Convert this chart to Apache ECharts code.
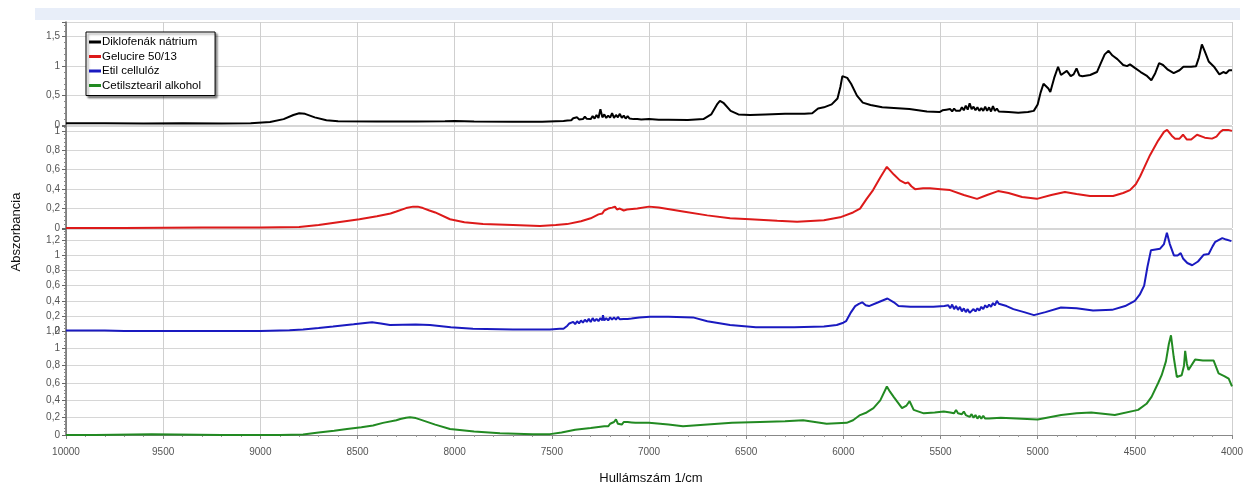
<!DOCTYPE html>
<html>
<head>
<meta charset="utf-8">
<script src="https://cdn.jsdelivr.net/npm/echarts@6/dist/echarts.min.js"></script>
<style>
html,body{margin:0;padding:0;background:#fff;}
#c{width:1251px;height:490px;}
</style>
</head>
<body>
<div id="c"></div>
<script>
// ---- data ----
const seriesNames = ['Diklofenák nátrium', 'Gelucire 50/13', 'Etil cellulóz', 'Cetilsztearil alkohol'];
const xTicks = [10000, 9500, 9000, 8500, 8000, 7500, 7000, 6500, 6000, 5500, 5000, 4500, 4000];
const yTicksDiklo = [0, 0.5, 1, 1.5];
const yTicksGelucire = [0, 0.2, 0.4, 0.6, 0.8, 1];
const yTicksEtil = [0, 0.2, 0.4, 0.6, 0.8, 1, 1.2];
const yTicksCetil = [0, 0.2, 0.4, 0.6, 0.8, 1, 1.2];

const diklofenak = [
[10000,0.03],[9800,0.03],[9600,0.025],[9400,0.03],[9200,0.025],[9050,0.03],[8950,0.05],[8880,0.1],[8830,0.17],[8800,0.2],
[8770,0.19],[8720,0.13],[8660,0.08],[8600,0.065],[8400,0.06],[8200,0.06],[8050,0.065],[8000,0.07],[7900,0.06],[7700,0.055],
[7550,0.055],[7480,0.065],
[7440,0.07],[7430,0.085],[7420,0.075],[7410,0.1],[7400,0.08],[7390,0.115],[7380,0.09],[7370,0.13],[7360,0.095],[7350,0.125],
[7340,0.1],[7330,0.14],[7320,0.105],[7310,0.13],[7300,0.1],[7290,0.15],[7280,0.11],[7270,0.17],[7260,0.12],[7250,0.27],
[7240,0.13],[7230,0.18],[7220,0.12],[7210,0.16],[7200,0.125],[7190,0.2],[7180,0.12],[7170,0.17],[7160,0.13],[7150,0.19],
[7140,0.12],[7130,0.16],[7120,0.11],[7110,0.15],[7100,0.11],[7090,0.14],[7080,0.1],[7070,0.13],[7060,0.1],[7050,0.12],
[7040,0.095],[7000,0.1],[6950,0.09],[6900,0.09],[6800,0.085],[6720,0.1],[6680,0.18],[6650,0.35],
[6635,0.41],[6615,0.37],[6580,0.24],[6540,0.18],[6480,0.17],[6400,0.18],[6300,0.19],[6200,0.19],[6160,0.2],[6130,0.28],
[6100,0.3],[6060,0.35],[6030,0.45],[6015,0.65],[6005,0.83],[5995,0.85],[5980,0.8],[5960,0.7],[5930,0.5],[5900,0.38],
[5860,0.34],[5800,0.3],[5660,0.27],[5570,0.23],[5505,0.22],
[5490,0.25],[5480,0.22],[5470,0.26],[5460,0.23],[5450,0.27],[5440,0.23],[5430,0.28],[5420,0.24],[5410,0.27],[5400,0.24],
[5390,0.3],[5380,0.25],[5370,0.33],[5360,0.26],[5350,0.37],[5340,0.27],[5330,0.31],[5320,0.25],[5310,0.3],[5300,0.24],
[5290,0.29],[5280,0.24],[5270,0.31],[5260,0.24],[5250,0.3],[5240,0.23],[5230,0.32],[5220,0.24],[5210,0.28],[5200,0.23],
[5150,0.22],[5100,0.21],[5050,0.22],[5020,0.24],[5000,0.35],[4985,0.55],[4970,0.7],[4960,0.72],[4945,0.62],
[4935,0.56],[4915,0.8],[4895,0.99],[4880,0.85],[4870,0.82],[4850,0.92],[4830,0.83],[4815,0.86],[4800,0.96],[4785,0.84],
[4770,0.83],[4730,0.85],[4695,0.9],[4675,1.05],[4655,1.2],[4635,1.26],[4615,1.18],[4590,1.12],[4560,1.02],[4540,1.0],
[4525,1.03],[4500,0.97],[4470,0.9],[4440,0.84],[4415,0.76],[4395,0.88],[4375,1.05],[4355,1.02],[4330,0.94],[4300,0.88],
[4270,0.93],[4250,0.99],[4210,0.99],[4185,1.0],[4170,1.15],[4155,1.37],[4140,1.25],[4120,1.08],[4090,0.98],[4065,0.86],
[4045,0.9],[4030,0.88],[4015,0.93],[4000,0.93]
];

const gelucire = [
[10000,0.0],[9700,0.0],[9300,0.005],[9000,0.005],[8800,0.01],[8700,0.03],[8600,0.06],[8490,0.09],[8400,0.12],[8330,0.15],
[8300,0.17],[8250,0.205],[8214,0.22],[8190,0.22],[8163,0.205],[8130,0.18],[8100,0.16],[8024,0.09],[7950,0.06],[7854,0.04],
[7700,0.03],[7561,0.02],[7480,0.03],[7422,0.04],[7350,0.07],[7300,0.1],
[7260,0.14],[7250,0.16],[7240,0.15],[7230,0.18],[7220,0.17],[7210,0.2],[7200,0.19],[7190,0.21],[7180,0.2],[7175,0.22],
[7165,0.19],[7150,0.2],[7130,0.18],[7113,0.19],[7060,0.2],
[7000,0.22],[6950,0.21],[6825,0.17],[6700,0.13],[6583,0.1],[6480,0.09],[6340,0.075],[6238,0.065],[6100,0.08],[6017,0.11],
[5950,0.16],[5914,0.2],[5880,0.3],[5847,0.39],[5810,0.52],[5776,0.63],[5740,0.55],[5709,0.49],[5680,0.46],[5667,0.47],
[5650,0.43],[5631,0.4],[5590,0.41],[5554,0.41],[5500,0.4],[5451,0.39],[5380,0.34],[5312,0.3],[5260,0.34],[5204,0.38],
[5150,0.36],[5080,0.32],[5004,0.3],[4930,0.34],[4860,0.37],[4800,0.35],[4731,0.33],[4612,0.33],[4560,0.36],[4525,0.39],
[4495,0.45],[4473,0.53],[4450,0.63],[4422,0.75],[4380,0.9],[4350,0.99],[4334,1.01],[4310,0.95],[4293,0.92],[4270,0.92],
[4252,0.96],[4232,0.91],[4210,0.91],[4180,0.96],[4140,0.93],[4103,0.92],[4080,0.94],[4060,0.99],[4046,1.01],[4020,1.01],
[4000,1.0]
];

const etilCellulose = [
[10000,0.005],[9800,0.005],[9700,0.0],[9000,0.0],[8850,0.01],[8780,0.02],[8700,0.04],[8626,0.06],[8520,0.09],[8450,0.11],
[8425,0.115],[8380,0.1],[8333,0.08],[8200,0.085],[8127,0.08],[8020,0.05],[7906,0.03],[7700,0.02],[7510,0.02],[7460,0.03],
[7440,0.03],[7430,0.05],[7420,0.07],[7410,0.1],[7400,0.08],[7390,0.12],[7380,0.09],[7370,0.13],[7360,0.1],[7350,0.14],
[7340,0.11],[7330,0.15],[7320,0.12],[7310,0.16],[7300,0.12],[7290,0.17],[7280,0.13],[7270,0.16],[7260,0.13],[7250,0.17],
[7240,0.14],[7237,0.21],[7230,0.14],[7220,0.17],[7210,0.14],[7200,0.18],[7190,0.15],[7180,0.18],[7170,0.15],[7160,0.185],
[7150,0.155],[7140,0.18],[7130,0.16],[7120,0.185],[7110,0.16],[7100,0.18],[7090,0.165],[7080,0.18],
[7050,0.18],[6995,0.19],[6900,0.19],
[6774,0.18],[6700,0.13],[6583,0.08],[6450,0.05],[6253,0.05],[6100,0.06],[6034,0.08],[6000,0.11],[5986,0.13],[5960,0.25],
[5939,0.33],[5920,0.36],[5903,0.38],[5885,0.34],[5868,0.33],[5820,0.38],[5773,0.43],[5740,0.38],[5716,0.33],[5655,0.32],
[5537,0.32],[5480,0.33],
[5470,0.31],[5460,0.34],[5450,0.3],[5440,0.35],[5430,0.29],[5420,0.33],[5410,0.28],[5400,0.32],[5390,0.26],[5380,0.3],
[5370,0.25],[5360,0.29],[5350,0.24],[5340,0.22],[5330,0.29],[5320,0.26],[5310,0.3],[5300,0.27],[5290,0.32],[5280,0.29],
[5270,0.34],[5260,0.31],[5250,0.35],[5240,0.32],[5230,0.37],[5220,0.34],[5210,0.4],[5200,0.36],[5190,0.37],
[5160,0.33],[5125,0.29],[5070,0.25],
[5019,0.21],[4960,0.25],[4880,0.31],[4800,0.3],[4715,0.27],[4617,0.28],[4550,0.33],[4500,0.4],[4475,0.48],[4452,0.6],
[4435,0.85],[4417,1.07],[4370,1.09],[4350,1.15],[4335,1.3],[4320,1.15],[4299,1.0],[4280,1.0],[4264,1.03],[4252,0.96],
[4230,0.9],[4205,0.87],[4175,0.92],[4145,1.01],[4120,1.02],[4100,1.12],[4086,1.18],[4050,1.23],[4030,1.21],[4003,1.19],
[4000,1.19]
];

const cetilsztearil = [
[10000,0.0],[9850,0.0],[9840,0.01],[9560,0.01],[9550,0.0],[9200,0.0],[8900,0.0],[8780,0.005],[8700,0.03],[8620,0.05],
[8554,0.07],[8480,0.09],[8420,0.11],[8369,0.14],[8300,0.17],[8280,0.185],[8250,0.2],[8230,0.205],[8200,0.195],[8180,0.18],
[8100,0.12],[8024,0.07],
[7900,0.04],[7767,0.02],[7600,0.01],[7510,0.01],[7450,0.03],[7380,0.06],[7300,0.08],
[7230,0.1],[7220,0.12],[7210,0.1],[7200,0.13],[7190,0.12],[7180,0.15],[7170,0.18],[7160,0.13],[7150,0.15],[7140,0.12],
[7130,0.15],[7120,0.13],[7110,0.15],[7100,0.13],[7090,0.145],[7080,0.13],[7070,0.14],
[7000,0.14],[6900,0.12],[6825,0.1],[6700,0.12],[6573,0.14],[6429,0.15],[6300,0.16],
[6207,0.17],[6086,0.13],[5983,0.14],[5950,0.17],[5914,0.23],[5880,0.26],[5845,0.31],[5810,0.4],[5776,0.56],[5760,0.5],
[5741,0.44],[5698,0.31],[5675,0.34],[5659,0.39],[5638,0.29],[5586,0.25],[5530,0.26],[5483,0.27],
[5450,0.26],[5440,0.28],[5430,0.25],[5420,0.29],[5410,0.25],[5400,0.27],[5390,0.24],[5380,0.27],[5370,0.23],[5360,0.25],
[5350,0.21],[5340,0.24],[5330,0.2],[5320,0.23],[5310,0.19],[5300,0.22],[5290,0.19],[5280,0.22],[5270,0.19],[5260,0.21],
[5250,0.19],[5190,0.2],[5000,0.18],[4879,0.23],
[4800,0.25],[4724,0.26],[4603,0.23],[4483,0.29],[4440,0.36],[4414,0.44],[4380,0.6],[4362,0.69],[4340,0.85],[4325,1.05],
[4314,1.15],[4300,0.9],[4284,0.67],[4259,0.69],[4247,0.8],[4241,0.97],[4232,0.82],[4224,0.75],[4190,0.87],[4150,0.86],
[4121,0.86],[4095,0.86],[4069,0.71],[4040,0.68],[4017,0.65],[4000,0.56]
];

// ---- layout / style ----
const colors = ['#000000', '#dd1a1a', '#1a1ac0', '#228a22'];
const panelData = [diklofenak, gelucire, etilCellulose, cetilsztearil];
const panelTicks = [yTicksDiklo, yTicksGelucire, yTicksEtil, yTicksCetil];
const panelMax = [1.75, 1.05, 1.35, 1.2];
const panelInterval = [0.5, 0.2, 0.2, 0.2];
const gridTop = [22, 126, 229, 331];
const gridHeight = [103, 102, 102, 104];

const fmt = v => {
  const r = Math.round(v * 100) / 100;
  return String(r).replace('.', ',');
};

const grids = [], xAxes = [], yAxes = [], series = [];
for (let i = 0; i < 4; i++) {
  const last = i === 3;
  const ticks = panelTicks[i];
  grids.push({left: 66, width: 1166, top: gridTop[i], height: gridHeight[i], containLabel: false});
  xAxes.push({
    gridIndex: i, type: 'value', inverse: true,
    min: xTicks[xTicks.length - 1], max: xTicks[0], interval: 500,
    offset: last ? 5 : 0,
    axisLine: {show: last, lineStyle: {color: '#888', width: 1}},
    axisTick: {show: last, length: 4, lineStyle: {color: '#888'}},
    minorTick: {show: last, splitNumber: 5, length: 2, lineStyle: {color: '#999'}},
    axisLabel: {show: last, color: '#555', fontSize: 10, margin: 7, fontFamily: 'Liberation Sans, Arial, sans-serif',
      formatter: v => xTicks.indexOf(v) >= 0 ? String(v) : ''},
    splitLine: {show: true, lineStyle: {color: '#cfcfcf', width: 1}}
  });
  yAxes.push({
    gridIndex: i, type: 'value', min: 0, max: panelMax[i], interval: panelInterval[i],
    axisLine: {show: true, onZero: false, lineStyle: {color: '#666', width: 1.5}},
    axisTick: {show: true, length: 4, lineStyle: {color: '#666'}},
    minorTick: {show: true, splitNumber: 5, length: 2, lineStyle: {color: '#888'}},
    axisLabel: {color: '#555', fontSize: 10, margin: 6, fontFamily: 'Liberation Sans, Arial, sans-serif',
      showMaxLabel: ticks.indexOf(panelMax[i]) >= 0,
      formatter: v => {
        const r = Math.round(v * 100) / 100;
        return ticks.indexOf(r) >= 0 ? fmt(r) : '';
      }},
    splitLine: {show: true, lineStyle: {color: '#d6d6d6', width: 1}}
  });
  series.push({
    name: seriesNames[i], type: 'line', xAxisIndex: i, yAxisIndex: i,
    data: panelData[i], showSymbol: false, symbol: 'none',
    lineStyle: {color: colors[i], width: 2}, itemStyle: {color: colors[i]},
    animation: false, silent: true
  });
}

const chart = echarts.init(document.getElementById('c'), null, {renderer: 'canvas'});
chart.setOption({
  animation: false,
  backgroundColor: '#ffffff',
  grid: grids, xAxis: xAxes, yAxis: yAxes, series: series,
  legend: {
    data: seriesNames, orient: 'vertical', left: 86, top: 32,
    backgroundColor: '#ffffff', borderColor: '#000', borderWidth: 1,
    shadowColor: 'rgba(0,0,0,0.45)', shadowOffsetX: 2, shadowOffsetY: 2, shadowBlur: 2,
    padding: [4, 14, 4, 3], itemGap: 2.5, itemWidth: 12, itemHeight: 3, icon: 'rect',
    textStyle: {color: '#000', fontSize: 11.5, fontFamily: 'Liberation Sans, Arial, sans-serif', padding: [0, 0, 0, -4]},
    selectedMode: false
  },
  graphic: [
    {type: 'rect', left: 35, top: 8, shape: {width: 1205, height: 12}, style: {fill: '#e8eef9'}, silent: true},
    {type: 'text', x: 16, y: 232, rotation: Math.PI / 2,
      style: {text: 'Abszorbancia', fill: '#111', fontSize: 13, fontFamily: 'Liberation Sans, Arial, sans-serif',
        align: 'center', verticalAlign: 'middle'}},
    {type: 'text', x: 651, y: 478,
      style: {text: 'Hullámszám 1/cm', fill: '#111', fontSize: 13, fontFamily: 'Liberation Sans, Arial, sans-serif',
        align: 'center', verticalAlign: 'middle'}}
  ]
});
</script>
</body>
</html>
